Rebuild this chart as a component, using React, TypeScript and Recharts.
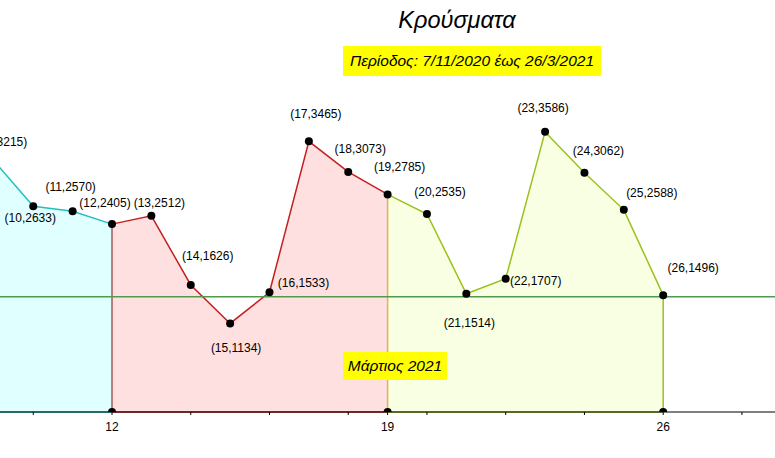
import React from "react"
import {
  ComposedChart,
  Area,
  Scatter,
  XAxis,
  YAxis,
  ReferenceLine,
} from "recharts"

// data
const days = [9, 10, 11, 12, 13, 14, 15, 16, 17, 18, 19, 20, 21, 22, 23, 24, 25, 26]
const cases = [3215, 2633, 2570, 2405, 2512, 1626, 1134, 1533, 3465, 3073, 2785, 2535, 1514, 1707, 3586, 3062, 2588, 1496]
const periodBreaks = [12, 19, 26]
const tickDays = [10, 12, 14, 16, 18, 19, 20, 22, 24, 26, 28]
const labeledTicks = [12, 19, 26]
const threshold = 1475

const title = "Κρούσματα"
const subtitle = "Περίοδος: 7/11/2020 έως 26/3/2021"
const marchLabel = "Μάρτιος 2021"

// where each point label sits relative to its dot
const labelOffsets: Record<number, [number, number]> = {
  9: [11, -19],
  10: [-3, 12],
  11: [-2, -24],
  12: [-7, -21],
  13: [8, -13],
  14: [17, -29],
  15: [6, 25],
  16: [34, -9],
  17: [7, -27],
  18: [12, -23],
  19: [12, -27],
  20: [13, -22],
  21: [3, 29],
  22: [30, 2],
  23: [-2, -24],
  24: [14, -22],
  25: [28, -17],
  26: [30, -27],
}

const rows = days.map((d, i) => ({
  day: d,
  cases: cases[i],
  cyan: d <= periodBreaks[0] ? cases[i] : null,
  red: d >= periodBreaks[0] && d <= periodBreaks[1] ? cases[i] : null,
  green: d >= periodBreaks[1] && d <= periodBreaks[2] ? cases[i] : null,
}))

const basePoints = periodBreaks.map((d) => ({ day: d, cases: 0 }))

const valueAt = (d: number) => cases[days.indexOf(d)]

const X_MIN = 9.155
const X_MAX = 28.84

const font = "'Liberation Sans', Arial, sans-serif"

const PointWithLabel = (props: any) => {
  const { cx, cy, payload } = props
  const [dx, dy] = labelOffsets[payload.day] || [0, -20]
  return (
    <g>
      <circle cx={cx} cy={cy} r={4} fill="#000" />
      <text
        x={cx + dx}
        y={cy + dy}
        textAnchor="middle"
        dominantBaseline="central"
        fontSize={12}
        fontFamily={font}
        fill="#000"
      >
        {`(${payload.day},${payload.cases})`}
      </text>
    </g>
  )
}

const Dot = (props: any) => <circle cx={props.cx} cy={props.cy} r={4} fill="#000" />

const boxStyle: React.CSSProperties = {
  position: "absolute",
  background: "#ffff00",
  fontStyle: "italic",
  fontFamily: font,
  fontSize: 15.5,
  color: "#000",
  whiteSpace: "nowrap",
  lineHeight: "29px",
  textAlign: "center",
}

export default function App() {
  return (
    <div style={{ position: "absolute", left: 0, top: 0, width: 775, height: 458, background: "#fff", overflow: "hidden" }}>
      <ComposedChart
        width={775}
        height={458}
        data={rows}
        margin={{ top: 0, right: 0, bottom: 0, left: 0 }}
      >
        <XAxis
          dataKey="day"
          type="number"
          domain={[X_MIN, X_MAX]}
          allowDataOverflow
          ticks={tickDays}
          tickFormatter={(v: number) => (labeledTicks.includes(v) ? `${v}` : "")}
          height={46}
          tickSize={3}
          tickMargin={7}
          stroke="#000"
          tick={{ fill: "#000", fontSize: 12, fontFamily: font }}
        />
        <YAxis hide width={0} type="number" domain={[0, 5274]} allowDataOverflow />
        <Area
          type="linear"
          dataKey="cyan"
          stroke="#22c0c0"
          strokeWidth={1.5}
          fill="#e0ffff"
          fillOpacity={1}
          baseValue={0}
          dot={false}
          activeDot={false}
          isAnimationActive={false}
        />
        <Area
          type="linear"
          dataKey="red"
          stroke="#c42020"
          strokeWidth={1.5}
          fill="#ffe0e0"
          fillOpacity={1}
          baseValue={0}
          dot={false}
          activeDot={false}
          isAnimationActive={false}
        />
        <Area
          type="linear"
          dataKey="green"
          stroke="#99c21c"
          strokeWidth={1.5}
          fill="#f8ffe2"
          fillOpacity={1}
          baseValue={0}
          dot={false}
          activeDot={false}
          isAnimationActive={false}
        />
        <ReferenceLine segment={[{ x: X_MIN, y: 0 }, { x: periodBreaks[0], y: 0 }]} stroke="#22c0c0" strokeWidth={1.5} />
        <ReferenceLine segment={[{ x: periodBreaks[0], y: 0 }, { x: periodBreaks[1], y: 0 }]} stroke="#c42020" strokeWidth={1.5} />
        <ReferenceLine segment={[{ x: periodBreaks[1], y: 0 }, { x: periodBreaks[2], y: 0 }]} stroke="#99c21c" strokeWidth={1.5} />
        <ReferenceLine segment={[{ x: periodBreaks[0], y: 0 }, { x: periodBreaks[0], y: valueAt(periodBreaks[0]) }]} stroke="#a05a5a" strokeWidth={1.5} />
        <ReferenceLine segment={[{ x: periodBreaks[1], y: 0 }, { x: periodBreaks[1], y: valueAt(periodBreaks[1]) }]} stroke="#e2b448" strokeWidth={1.5} />
        <ReferenceLine segment={[{ x: periodBreaks[2], y: 0 }, { x: periodBreaks[2], y: valueAt(periodBreaks[2]) }]} stroke="#99c21c" strokeWidth={1.5} />
        <ReferenceLine y={threshold} stroke="#4f9a4f" strokeWidth={1.5} />
        <Scatter data={basePoints} dataKey="cases" shape={Dot} isAnimationActive={false} />
        <Scatter data={rows} dataKey="cases" shape={PointWithLabel} isAnimationActive={false} />
      </ComposedChart>
      <div
        style={{
          position: "absolute",
          left: 357,
          top: 7,
          width: 200,
          textAlign: "center",
          fontFamily: font,
          fontStyle: "italic",
          fontSize: 23.5,
          color: "#000",
        }}
      >
        {title}
      </div>
      <div style={{ ...boxStyle, left: 343, top: 46, width: 258, height: 30, lineHeight: "30px" }}>{subtitle}</div>
      <div style={{ ...boxStyle, left: 343, top: 352, width: 104, height: 28, lineHeight: "28px" }}>{marchLabel}</div>
    </div>
  )
}
